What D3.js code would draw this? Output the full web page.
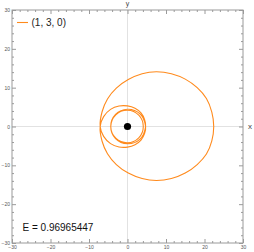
<!DOCTYPE html>
<html>
<head>
<meta charset="utf-8">
<script src="https://cdn.jsdelivr.net/npm/d3@7"></script>
<style>
  body { margin: 0; background: #fff; }
  svg { display: block; font-family: "Liberation Sans", Arial, sans-serif; }
</style>
</head>
<body>
<script>
var width = 254,
    height = 252;

// orbit points, in order along the path (x, y)
var orbitX = [22.4, 21.9, 20.5, 18.1, 15.0, 11.4, 7.5, 3.8, 0.2, -2.9, -5.2, -6.6, -7.1,
              -6.2, -4.4, -2.2, 0.0, 1.95, 3.5, 4.43, 4.7,
              3.25, 0.0, -3.11, -4.35, -3.03, 0.0, 2.93, 4.1,
              2.93, 0.0, -3.03, -4.35, -3.11, 0.0, 3.25, 4.7,
              4.43, 3.5, 1.95, 0.0, -2.2, -4.4, -6.2,
              -7.1, -6.6, -5.2, -2.9, 0.2, 3.8, 7.5, 11.4, 15.0, 18.1, 20.5, 21.9];
var orbitY = [0.0, 3.7, 7.2, 10.0, 12.2, 13.6, 14.1, 13.6, 12.1, 9.9, 7.1, 3.8, 0.0,
              -2.55, -4.4, -5.27, -5.3, -4.7, -3.5, -1.84, 0.0,
              3.25, 4.45, 3.11, 0.0, -3.03, -4.2, -2.93, 0.0,
              2.93, 4.2, 3.03, 0.0, -3.11, -4.45, -3.25, 0.0,
              1.84, 3.5, 4.7, 5.3, 5.27, 4.4, 2.55,
              0.0, -3.8, -7.0, -9.8, -12.0, -13.4, -13.9, -13.4, -12.0, -9.8, -7.1, -3.7];

var majorTicks = [-30, -20, -10, 0, 10, 20, 30];
var minorTicks = [-28, -26, -24, -22, -18, -16, -14, -12, -8, -6, -4, -2,
                  2, 4, 6, 8, 12, 14, 16, 18, 22, 24, 26, 28];
var legendLabel = "(1, 3, 0)";
var energyLabel = "E = 0.96965447";

var x = d3.scaleLinear().domain([-30, 30]).range([12, 243]);
var y = d3.scaleLinear().domain([-30, 30]).range([243, 10]);

var svg = d3.select("body").append("svg")
    .attr("width", width)
    .attr("height", height);

var frameColor = "#9a9a9a",
    labelColor = "#555";

// light axes through the origin
svg.append("line")
    .attr("x1", x(-30)).attr("x2", x(30))
    .attr("y1", y(0)).attr("y2", y(0))
    .attr("stroke", "#e2e2e2").attr("stroke-width", 1);
svg.append("line")
    .attr("x1", x(0)).attr("x2", x(0))
    .attr("y1", y(-30)).attr("y2", y(30))
    .attr("stroke", "#e2e2e2").attr("stroke-width", 1);

// frame ticks, all four sides, pointing in
function frameAxis(axisFn, scale, transform, ticks, size, labels) {
  var g = svg.append("g")
      .attr("transform", transform)
      .call(axisFn(scale).tickValues(ticks).tickSizeInner(-size).tickSizeOuter(0)
            .tickPadding(2)
            .tickFormat(labels ? d3.format("d") : ""));
  g.select(".domain").remove();
  g.selectAll("line").attr("stroke", frameColor);
  g.selectAll("text").attr("fill", labelColor).attr("font-size", "5px")
      .attr("font-family", "Liberation Sans, Arial, sans-serif");
  return g;
}

frameAxis(d3.axisBottom, x, "translate(0," + y(-30) + ")", majorTicks, 4, true);
frameAxis(d3.axisBottom, x, "translate(0," + y(-30) + ")", minorTicks, 2, false);
frameAxis(d3.axisTop, x, "translate(0," + y(30) + ")", majorTicks, 4, false);
frameAxis(d3.axisTop, x, "translate(0," + y(30) + ")", minorTicks, 2, false);
frameAxis(d3.axisLeft, y, "translate(" + x(-30) + ",0)", majorTicks, 4, true);
frameAxis(d3.axisLeft, y, "translate(" + x(-30) + ",0)", minorTicks, 2, false);
frameAxis(d3.axisRight, y, "translate(" + x(30) + ",0)", majorTicks, 4, false);
frameAxis(d3.axisRight, y, "translate(" + x(30) + ",0)", minorTicks, 2, false);

svg.append("rect")
    .attr("x", x(-30)).attr("y", y(30))
    .attr("width", x(30) - x(-30)).attr("height", y(-30) - y(30))
    .attr("fill", "none").attr("stroke", frameColor).attr("stroke-width", 1);

// axis names
svg.append("text")
    .attr("x", x(0)).attr("y", 6)
    .attr("text-anchor", "middle")
    .attr("font-size", "7px").attr("fill", "#444")
    .text("y");
svg.append("text")
    .attr("x", 250).attr("y", y(0) + 2)
    .attr("text-anchor", "middle")
    .attr("font-size", "8px").attr("fill", "#444")
    .text("x");

// the orbit
var pts = orbitX.map(function(d, i) { return [d, orbitY[i]]; });
var line = d3.line()
    .x(function(d) { return x(d[0]); })
    .y(function(d) { return y(d[1]); })
    .curve(d3.curveCatmullRomClosed);

svg.append("path")
    .datum(pts)
    .attr("d", line)
    .attr("fill", "none")
    .attr("stroke", "#ff8a1c")
    .attr("stroke-width", 1.1);

// central mass
svg.append("circle")
    .attr("cx", x(0)).attr("cy", y(0))
    .attr("r", 3.6)
    .attr("fill", "#000");

// legend
svg.append("line")
    .attr("x1", 17).attr("x2", 28)
    .attr("y1", 22.5).attr("y2", 22.5)
    .attr("stroke", "#ff8a1c").attr("stroke-width", 1.1);
svg.append("text")
    .attr("x", 31.5).attr("y", 26)
    .attr("font-size", "10px").attr("fill", "#222")
    .text(legendLabel);

svg.append("text")
    .attr("x", 22.5).attr("y", 230.5)
    .attr("font-size", "10px").attr("fill", "#111")
    .text(energyLabel);
</script>
</body>
</html>
